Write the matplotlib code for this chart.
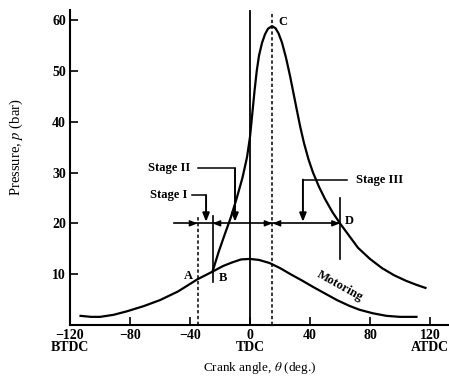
import numpy as np
import matplotlib
matplotlib.use('Agg')
import matplotlib.pyplot as plt

plt.rcParams['font.family'] = ['Liberation Serif', 'DejaVu Serif']
plt.rcParams['mathtext.fontset'] = 'stix'

# motoring (no combustion) pressure trace
motor_theta = [-113, -106, -100, -91, -82, -71, -60, -48, -35, -25, -18, -12, -6, 0,
               6, 13, 20, 27, 35, 42, 50, 58, 66, 73, 82, 91, 100, 111]
motor_p = [1.8, 1.6, 1.6, 2.0, 2.7, 3.7, 4.9, 6.6, 9.0, 10.5, 11.6, 12.3, 12.9, 13.0,
           12.8, 12.2, 11.2, 10.0, 8.7, 7.5, 6.2, 4.9, 3.8, 3.0, 2.3, 1.8, 1.6, 1.6]

# firing pressure trace, starting at B
fire_theta = [-25, -21, -17, -13, -9, -5, -2, 0, 1.5, 3, 4.5, 6, 8, 10, 12, 14.7,
              17, 19, 21.3, 24, 26.7, 29, 31.3, 33.5, 36, 39, 42, 46, 50, 55, 60,
              66, 72, 80, 88, 96, 104, 111, 117]
fire_p = [10.5, 14.3, 17.7, 21.0, 24.8, 29.0, 33.0, 37.0, 41.5, 46.0, 50.0, 53.0, 55.5,
          57.2, 58.3, 58.8, 58.4, 57.4, 55.6, 52.6, 49.0, 45.6, 42.2, 39.0, 35.8, 32.6,
          30.0, 27.2, 24.8, 22.2, 20.0, 17.6, 15.2, 13.0, 11.2, 9.8, 8.7, 7.9, 7.3]

# key crank angles: A (spark), B, TDC, C (peak), D (end of combustion)
theta_A, theta_B, theta_TDC, theta_C, theta_D = -35, -25, 0, 15, 60
p_line = 20

xticks = [-120, -80, -40, 0, 40, 80, 120]
xtick_labels = ['\u2212120\nBTDC', '\u221280', '\u221240', '0\nTDC', '40', '80', '120\nATDC']
yticks = [10, 20, 30, 40, 50, 60]

fig = plt.figure(figsize=(4.49, 3.81), dpi=100)
ax = fig.add_axes([0.156, 0.147, 0.844, 0.827])

ax.plot(motor_theta, motor_p, color='black', lw=1.6)
ax.plot(fire_theta, fire_p, color='black', lw=1.6)

dash = (0, (2.2, 1.6))
ax.plot([theta_A, theta_A], [0, 21.5], color='black', lw=1.1, linestyle=dash)
ax.plot([theta_C, theta_C], [0, 61.5], color='black', lw=1.1, linestyle=dash)
ax.plot([theta_TDC, theta_TDC], [0, 61.8], color='black', lw=1.3)
ax.plot([theta_B, theta_B], [8.5, 21.5], color='black', lw=1.2)
ax.plot([theta_D, theta_D], [13, 25], color='black', lw=1.2)

# horizontal 20 bar reference with dimension arrowheads
ax.plot([-51, theta_D], [p_line, p_line], color='black', lw=1.2)
heads = [(theta_A - 5, theta_A), (theta_B + 5, theta_B), (theta_C - 5, theta_C),
         (theta_C + 5, theta_C), (theta_D - 5, theta_D)]
for x0, x1 in heads:
    ax.annotate('', xy=(x1, p_line), xytext=(x0, p_line),
                arrowprops=dict(arrowstyle='-|>,head_length=0.45,head_width=0.18',
                                color='black', lw=1.0, shrinkA=0, shrinkB=0))

# stage labels with leader arrows
stages = [('Stage I', -42, 25.5, -38.7, -29.3, 'right'),
          ('Stage II', -40, 30.8, -34.7, -10, 'right'),
          ('Stage III', 71, 28.6, 65, 35.3, 'left')]
for name, tx, ty, lx0, lx1, ha in stages:
    ax.text(tx, ty, name, ha=ha, va='center', fontsize=9, fontweight='bold')
    ax.plot([lx0, lx1], [ty, ty], color='black', lw=1.1)
    ax.annotate('', xy=(lx1, p_line + 0.3), xytext=(lx1, ty),
                arrowprops=dict(arrowstyle='-|>,head_length=0.5,head_width=0.2',
                                color='black', lw=1.4, shrinkA=0, shrinkB=0))

ax.text(-41, 9.6, 'A', ha='center', va='center', fontsize=9, fontweight='bold')
ax.text(-18, 9.2, 'B', ha='center', va='center', fontsize=9, fontweight='bold')
ax.text(22, 59.6, 'C', ha='center', va='center', fontsize=9, fontweight='bold')
ax.text(66, 20.5, 'D', ha='center', va='center', fontsize=9, fontweight='bold')
ax.text(60, 7.6, 'Motoring', ha='center', va='center', fontsize=9,
        fontweight='bold', rotation=-29)

ax.set_xlim(-120, 132.7)
ax.set_ylim(0, 62)
ax.set_xticks(xticks)
ax.set_xticklabels(xtick_labels, fontsize=10, fontweight='bold', linespacing=0.9)
ax.set_yticks(yticks)
ax.set_yticklabels([str(v) for v in yticks], fontsize=10, fontweight='bold')
ax.tick_params(direction='in', length=6, width=1.2, pad=3)

for side in ['top', 'right']:
    ax.spines[side].set_visible(False)
for side in ['left', 'bottom']:
    ax.spines[side].set_linewidth(1.5)

ax.set_xlabel(r'Crank angle, $\theta$ (deg.)', fontsize=9.5, labelpad=4)
ax.set_ylabel(r'Pressure, $p$ (bar)', fontsize=10.5)
ax.yaxis.set_label_coords(-0.118, 0.565)

fig.savefig('out.png', dpi=100)
